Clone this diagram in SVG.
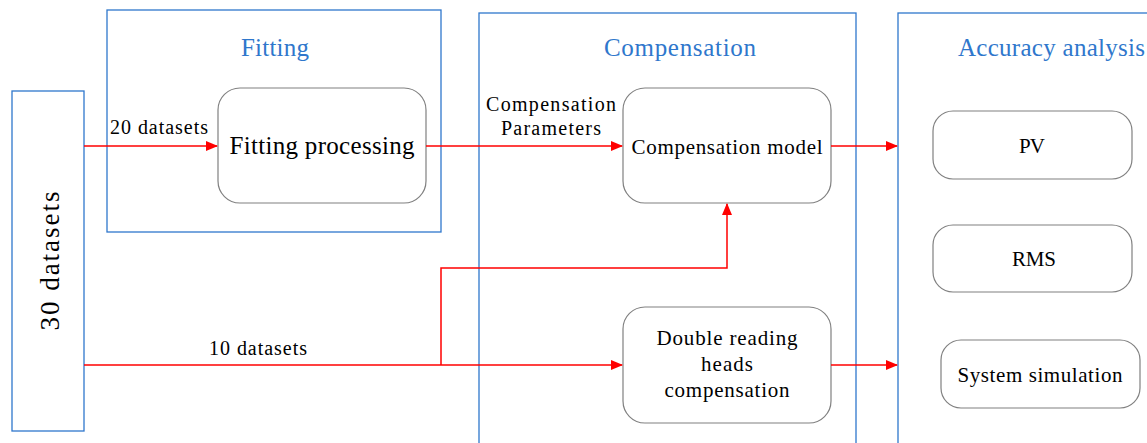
<svg xmlns="http://www.w3.org/2000/svg" width="1147" height="443" viewBox="0 0 1147 443">
<style>
.grp{fill:none;stroke:#2F77CC;stroke-width:1.3}
.box{fill:#fff;stroke:#808080;stroke-width:1.2}
.title{font-family:"Liberation Serif",serif;font-size:25px;fill:#2F77CC;text-anchor:middle}
.t{font-family:"Liberation Serif",serif;fill:#000;text-anchor:middle}
.conn{fill:none;stroke:#FF0000;stroke-width:1.5}
</style>
<defs>
<marker id="arr" markerWidth="12" markerHeight="10" refX="11" refY="5" orient="auto" markerUnits="userSpaceOnUse">
<path d="M0,0 L12,5 L0,10 Z" fill="#FF0000"/>
</marker>
</defs>
<rect width="1147" height="443" fill="#fff"/>
<g id="fitting-group">
<rect class="grp" x="107" y="10" width="334" height="222"/>
<text class="title" x="275" y="56" textLength="68">Fitting</text>
</g>
<g id="compensation-group">
<rect class="grp" x="479" y="13" width="377" height="440"/>
<text class="title" x="680" y="56" textLength="152">Compensation</text>
</g>
<g id="accuracy-group">
<rect class="grp" x="898" y="13" width="260" height="440"/>
<text class="title" x="958" y="56" style="text-anchor:start" textLength="187">Accuracy analysis</text>
</g>
<g id="datasets30">
<rect class="grp" x="12" y="91" width="72" height="340"/>
<text class="t" x="0" y="0" font-size="27" transform="translate(59,261) rotate(-90)" textLength="139">30  datasets</text>
</g>
<g id="fitting-processing">
<rect class="box" x="218" y="88" width="208" height="115" rx="22"/>
<text class="t" x="322" y="154" font-size="25" textLength="185">Fitting processing</text>
</g>
<g id="compensation-model">
<rect class="box" x="623" y="88" width="208" height="115" rx="22"/>
<text class="t" x="727" y="154" font-size="21" textLength="191">Compensation model</text>
</g>
<g id="double-reading">
<rect class="box" x="623" y="307" width="208" height="116" rx="22"/>
<text class="t" x="727" y="345" font-size="21" textLength="141">Double reading</text>
<text class="t" x="727" y="371" font-size="21" textLength="52">heads</text>
<text class="t" x="727" y="397" font-size="21" textLength="125">compensation</text>
</g>
<g id="pv">
<rect class="box" x="933" y="111" width="199" height="68" rx="20"/>
<text class="t" x="1032" y="153" font-size="21" textLength="26">PV</text>
</g>
<g id="rms">
<rect class="box" x="933" y="225" width="199" height="67" rx="20"/>
<text class="t" x="1034" y="266" font-size="21" textLength="44">RMS</text>
</g>
<g id="system-simulation">
<rect class="box" x="941" y="340" width="199" height="68" rx="20"/>
<text class="t" x="1040" y="382" font-size="21" textLength="165">System simulation</text>
</g>
<g id="connectors">
<path class="conn" d="M84,146 H217" marker-end="url(#arr)"/>
<path class="conn" d="M426,146 H622" marker-end="url(#arr)"/>
<path class="conn" d="M831,146 H897" marker-end="url(#arr)"/>
<path class="conn" d="M84,365 H622" marker-end="url(#arr)"/>
<path class="conn" d="M441,365 V268 H727 V204" marker-end="url(#arr)"/>
<path class="conn" d="M831,365 H897" marker-end="url(#arr)"/>
<text class="t" x="159" y="134" font-size="20" textLength="98">20 datasets</text>
<text class="t" x="551" y="111" font-size="20" textLength="130">Compensation</text>
<text class="t" x="551" y="135" font-size="20" textLength="100">Parameters</text>
<text class="t" x="258" y="355" font-size="20" textLength="98">10 datasets</text>
</g>
</svg>
